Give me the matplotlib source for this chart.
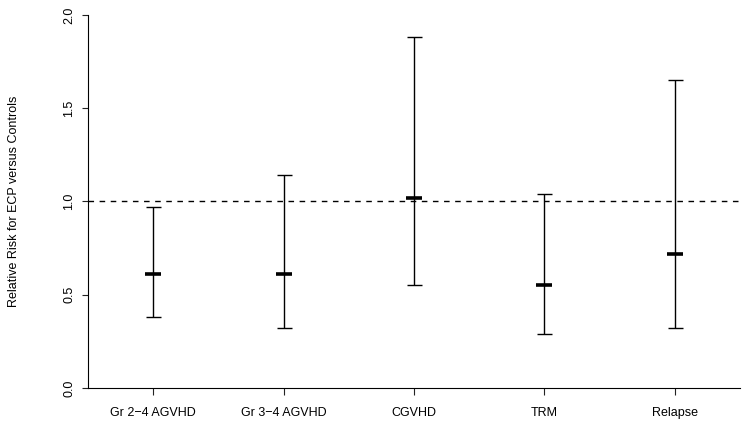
import matplotlib
matplotlib.use("Agg")
import matplotlib.pyplot as plt

categories = ["Gr 2\u22124 AGVHD", "Gr 3\u22124 AGVHD", "CGVHD", "TRM", "Relapse"]
estimate = [0.61, 0.61, 1.02, 0.55, 0.72]
lower = [0.38, 0.32, 0.55, 0.29, 0.32]
upper = [0.97, 1.14, 1.88, 1.04, 1.65]
yticks = [0.0, 0.5, 1.0, 1.5, 2.0]
ytick_labels = ["0.0", "0.5", "1.0", "1.5", "2.0"]

plt.rcParams['font.family'] = ['Liberation Sans', 'DejaVu Sans']

fig = plt.figure(figsize=(7.45, 4.23), dpi=100)
ax = fig.add_axes([88/745, 1 - 388/423, (740 - 88)/745, (388 - 15)/423])

x = list(range(1, len(categories) + 1))
yerr = [[e - l for e, l in zip(estimate, lower)], [u - e for u, e in zip(upper, estimate)]]
ax.errorbar(x, estimate, yerr=yerr, fmt='none', ecolor='black', elinewidth=1.0,
            capsize=5.4, capthick=1.0)
ax.plot(x, estimate, linestyle='none', marker='_', markersize=11.5, markeredgewidth=2.6,
        color='black')
ax.axhline(1.0, color='black', linestyle=(0, (4, 4)), linewidth=1.0)

ax.set_xlim(0.5, 5.5)
ax.set_ylim(0, 2.0)
ax.set_xticks(x)
ax.set_xticklabels(categories, fontsize=9)
ax.set_yticks(yticks)
ax.set_yticklabels(ytick_labels, fontsize=9, rotation=90, va='center')
ax.tick_params(axis='both', direction='out', width=0.8, colors='#222222',
               labelcolor='black')
ax.tick_params(axis='x', length=5, pad=9)
ax.tick_params(axis='y', length=4.5, pad=4.5)
for s in ['top', 'right']:
    ax.spines[s].set_visible(False)
for s in ['left', 'bottom']:
    ax.spines[s].set_linewidth(0.8)
ax.set_ylabel("Relative Risk for ECP versus Controls", fontsize=9, labelpad=31)

fig.savefig("out.png", dpi=100)
